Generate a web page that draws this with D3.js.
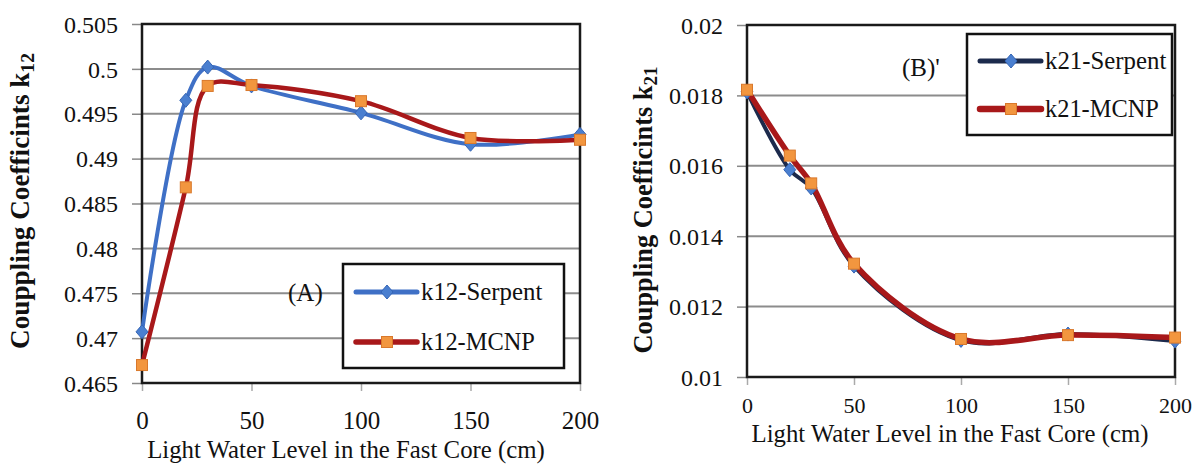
<!DOCTYPE html>
<html>
<head>
<meta charset="utf-8">
<script src="https://cdn.jsdelivr.net/npm/d3@7"></script>
<style>
  html, body { margin: 0; padding: 0; background: #fff; }
  svg { display: block; }
</style>
</head>
<body>
<svg id="chart" width="1204" height="464" font-family="Liberation Serif, DejaVu Serif, serif"></svg>
<script>
// ---- Data ----
const xLevels = [0, 20, 30, 50, 100, 150, 200];
const xTicks = [0, 50, 100, 150, 200];

const k12Serpent = [0.4707, 0.4965, 0.5002, 0.4981, 0.4951, 0.4916, 0.4927];
const k12MCNP    = [0.4670, 0.4868, 0.4981, 0.4982, 0.4964, 0.4923, 0.4921];
const k12Ticks   = [0.465, 0.47, 0.475, 0.48, 0.485, 0.49, 0.495, 0.5, 0.505];
const k12TickLabels = ["0.465", "0.47", "0.475", "0.48", "0.485", "0.49", "0.495", "0.5", "0.505"];

const k21Serpent = [0.01810, 0.01589, 0.01537, 0.01315, 0.01104, 0.01122, 0.01102];
const k21MCNP    = [0.01816, 0.01629, 0.01550, 0.01322, 0.01108, 0.01119, 0.01112];
const k21Ticks   = [0.01, 0.012, 0.014, 0.016, 0.018, 0.02];
const k21TickLabels = ["0.01", "0.012", "0.014", "0.016", "0.018", "0.02"];

const seriesNamesA = ["k12-Serpent", "k12-MCNP"];
const seriesNamesB = ["k21-Serpent", "k21-MCNP"];
const xTitle = "Light Water Level in the Fast Core (cm)";
const yTitleMain = "Couppling Coefficints  k";

const FONT = "Liberation Serif, DejaVu Serif, Times New Roman, serif";

// ---- Drawing ----
const svg = d3.select("#chart");

function fitWidth(sel, target, base) {
  const w = sel.node().getBBox().width;
  if (w > 0) sel.attr("font-size", base * target / w);
}

function drawPanel(cfg) {
  const g = svg.append("g").attr("font-family", FONT);
  const x = d3.scaleLinear().domain([0, 200]).range([cfg.left, cfg.right]);
  const y = d3.scaleLinear().domain([cfg.ticks[0], cfg.ticks[cfg.ticks.length - 1]]).range([cfg.bottom, cfg.top]);

  // gridlines
  g.append("g").selectAll("line").data(cfg.ticks.slice(1, -1)).join("line")
    .attr("x1", cfg.left).attr("x2", cfg.right)
    .attr("y1", d => y(d)).attr("y2", d => y(d))
    .attr("stroke", "#8c8c8c").attr("stroke-width", 2);

  // y axis
  const yAxis = d3.axisLeft(y).tickValues(cfg.ticks)
    .tickFormat((d, i) => cfg.tickLabels[i]).tickSize(10).tickPadding(14);
  const ya = g.append("g").attr("transform", `translate(${cfg.left},0)`).call(yAxis);
  ya.attr("font-family", FONT);
  ya.select(".domain").remove();
  ya.selectAll(".tick line").attr("stroke", "#888").attr("stroke-width", 1.5);
  ya.selectAll(".tick text").attr("font-family", FONT).attr("font-size", cfg.yTickSize)
    .attr("fill", "#111").attr("dy", "0.34em");

  // x axis
  const xAxis = d3.axisBottom(x).tickValues(xTicks).tickSize(8).tickPadding(0);
  const xa = g.append("g").attr("transform", `translate(0,${cfg.bottom})`).call(xAxis);
  xa.attr("font-family", FONT);
  xa.select(".domain").remove();
  xa.selectAll(".tick line").attr("stroke", "#aaa").attr("stroke-width", 1.5);
  xa.selectAll(".tick text").attr("font-family", FONT).attr("font-size", cfg.xTickSize).attr("fill", "#111")
    .attr("y", cfg.xTickBase).attr("dy", 0);

  // plot border
  g.append("rect").attr("x", cfg.left).attr("y", cfg.top)
    .attr("width", cfg.right - cfg.left).attr("height", cfg.bottom - cfg.top)
    .attr("fill", "none").attr("stroke", "#1a1a1a").attr("stroke-width", 2.5);

  // x title
  const xt = g.append("text").attr("x", cfg.xTitleCx).attr("y", cfg.xTitleY)
    .attr("text-anchor", "middle").attr("font-size", 22).attr("fill", "#111").text(xTitle);
  fitWidth(xt, cfg.xTitleW, 22);

  // y title
  const yt = g.append("text")
    .attr("transform", `translate(${cfg.yTitleX},${cfg.yTitleY}) rotate(-90)`)
    .attr("text-anchor", "middle").attr("font-size", 21).attr("font-weight", "bold").attr("fill", "#111");
  yt.append("tspan").text(yTitleMain);
  yt.append("tspan").attr("font-size", "0.72em").attr("dy", 5).text(cfg.sub);
  fitWidth(yt, cfg.yTitleW, 21);

  // label (A)/(B)
  g.append("text").attr("x", cfg.labelX).attr("y", cfg.labelY)
    .attr("font-size", 25).attr("fill", "#111").text(cfg.label);

  const line = d3.line().x(d => x(d[0])).y(d => y(d[1])).curve(d3.curveCatmullRom.alpha(0.5));

  const series = [
    { vals: cfg.s1, color: cfg.c1, width: cfg.w1, marker: "diamond" },
    { vals: cfg.s2, color: "#a8181a", width: cfg.w2, marker: "square" }
  ];
  series.forEach(s => {
    const pts = xLevels.map((xv, i) => [xv, s.vals[i]]);
    g.append("path").attr("d", line(pts)).attr("fill", "none")
      .attr("stroke", s.color).attr("stroke-width", s.width)
      .attr("stroke-linejoin", "round").attr("stroke-linecap", "round");
  });
  series.forEach(s => {
    const pts = xLevels.map((xv, i) => [xv, s.vals[i]]);
    drawMarkers(g, pts.map(p => [x(p[0]), y(p[1])]), s.marker);
  });

  // legend
  const lg = g.append("g");
  lg.append("rect").attr("x", cfg.legX).attr("y", cfg.legY).attr("width", cfg.legW).attr("height", cfg.legH)
    .attr("fill", "#fff").attr("stroke", "#111").attr("stroke-width", 2.5);
  series.forEach((s, i) => {
    const ly = cfg.legY + cfg.legRow0 + i * cfg.legRowGap;
    lg.append("line").attr("x1", cfg.legX + 13).attr("x2", cfg.legX + 74)
      .attr("y1", ly).attr("y2", ly).attr("stroke", s.color).attr("stroke-width", s.width + 1)
      .attr("stroke-linecap", "round");
    drawMarkers(lg, [[cfg.legX + 44, ly]], s.marker);
    const t = lg.append("text").attr("x", cfg.legX + 78).attr("y", ly).attr("dy", "0.33em")
      .attr("font-size", 23).attr("fill", "#111").text(cfg.names[i]);
    fitWidth(t, cfg.legTextW[i], 23);
  });
}

function drawMarkers(g, pts, type) {
  if (type === "diamond") {
    g.append("g").selectAll("path").data(pts).join("path")
      .attr("d", d => `M${d[0]},${d[1] - 7}L${d[0] + 6},${d[1]}L${d[0]},${d[1] + 7}L${d[0] - 6},${d[1]}Z`)
      .attr("fill", "#4a7fd0").attr("stroke", "#3565b5").attr("stroke-width", 1);
  } else {
    g.append("g").selectAll("rect").data(pts).join("rect")
      .attr("x", d => d[0] - 5.5).attr("y", d => d[1] - 5.5).attr("width", 11).attr("height", 11)
      .attr("fill", "#f2963f").attr("stroke", "#d9782b").attr("stroke-width", 1);
  }
}

drawPanel({
  left: 142, right: 580, top: 24, bottom: 383,
  ticks: k12Ticks, tickLabels: k12TickLabels, yTickSize: 24, xTickSize: 25, xTickBase: 46,
  s1: k12Serpent, s2: k12MCNP, c1: "#3f70c6", w1: 4, w2: 4.5,
  names: seriesNamesA, sub: "12",
  label: "(A)", labelX: 288, labelY: 301,
  legX: 343, legY: 264, legW: 221, legH: 104, legRow0: 28, legRowGap: 50, legTextW: [122, 114],
  xTitleCx: 346, xTitleW: 398, xTitleY: 458,
  yTitleX: 29, yTitleY: 201, yTitleW: 296
});

drawPanel({
  left: 747, right: 1175, top: 25, bottom: 377,
  ticks: k21Ticks, tickLabels: k21TickLabels, yTickSize: 24, xTickSize: 22, xTickBase: 36,
  s1: k21Serpent, s2: k21MCNP, c1: "#1c2a4c", w1: 4, w2: 5.5,
  names: seriesNamesB, sub: "21",
  label: "(B)'", labelX: 902, labelY: 76,
  legX: 967, legY: 34, legW: 205, legH: 101, legRow0: 27, legRowGap: 48, legTextW: [122, 114],
  xTitleCx: 950, xTitleW: 397, xTitleY: 442,
  yTitleX: 652, yTitleY: 210, yTitleW: 287
});
</script>
</body>
</html>
